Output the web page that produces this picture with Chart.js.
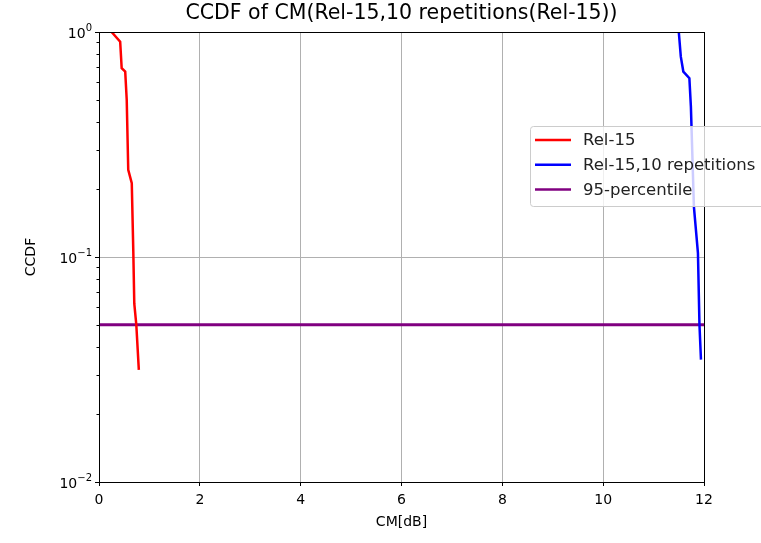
<!DOCTYPE html>
<html>
<head>
<meta charset="utf-8">
<script src="https://cdn.jsdelivr.net/npm/chart.js@4.4.1/dist/chart.umd.min.js"></script>
<style>
    html, body { margin: 0; padding: 0; background: #fff; }
    canvas { display: block; }
</style>
</head>
<body>
<canvas id="ccdfChart" width="761" height="543"></canvas>
<script>
// Datos
const rel15X = [0.25, 0.42, 0.45, 0.52, 0.55, 0.58, 0.65, 0.68, 0.70, 0.74, 0.79];
const rel15Y = [1.0, 0.906, 0.69, 0.667, 0.499, 0.244, 0.213, 0.107, 0.062, 0.05, 0.0315];
const rep10X = [11.50, 11.54, 11.59, 11.71, 11.74, 11.80, 11.88, 11.91, 11.94];
const rep10Y = [1.0, 0.777, 0.667, 0.623, 0.466, 0.167, 0.104, 0.05, 0.035];
const percX = [0, 12];
const percY = [0.05, 0.05];
const xTicks = [0, 2, 4, 6, 8, 10, 12];
const yTicks = [0.01, 0.1, 1];
const yExponents = ['\u22122', '\u22121', '0'];

const seriesNames = ['Rel-15', 'Rel-15,10 repetitions', '95-percentile'];
const seriesColors = ['#ff0000', '#0000ff', '#800080'];

const toPoints = (xs, ys) => xs.map((x, i) => ({ x: x, y: ys[i] }));
const FONT = 'DejaVu Sans';

// Textos, marcas menores, bordes y leyenda dibujados a mano
const extras = {
    id: 'extras',
    afterDraw(chart) {
        const c = chart.ctx;
        const a = chart.chartArea;
        const ys = chart.scales.y;
        c.save();
        // marco
        c.strokeStyle = '#000';
        c.lineWidth = 1;
        c.strokeRect(a.left + 0.5, a.top + 0.5, a.right - a.left, a.bottom - a.top);

        // marcas menores del eje log
        for (let d = 0; d < yTicks.length - 1; d++) {
            for (let m = 2; m <= 9; m++) {
                const py = Math.round(ys.getPixelForValue(yTicks[d] * m)) + 0.5;
                c.beginPath();
                c.moveTo(a.left - 2.5, py);
                c.lineTo(a.left, py);
                c.stroke();
            }
        }

        // etiquetas 10^n
        c.fillStyle = '#000';
        c.textAlign = 'right';
        c.textBaseline = 'alphabetic';
        yTicks.forEach((v, i) => {
            const py = ys.getPixelForValue(v);
            c.font = '10px "' + FONT + '"';
            const supW = c.measureText(yExponents[i]).width;
            c.fillText(yExponents[i], 92, py - 1);
            c.font = '14px "' + FONT + '"';
            c.fillText('10', 92 - supW, py + 6);
        });

        // titulo
        c.font = '20.5px "' + FONT + '"';
        c.textAlign = 'center';
        c.textBaseline = 'middle';
        c.fillText('CCDF of CM(Rel-15,10 repetitions(Rel-15))', (a.left + a.right) / 2, 14);

        // titulos de ejes
        c.font = '14px "' + FONT + '"';
        c.fillText('CM[dB]', (a.left + a.right) / 2, 522);
        c.translate(31, (a.top + a.bottom) / 2);
        c.rotate(-Math.PI / 2);
        c.fillText('CCDF', 0, 0);
        c.restore();

        // leyenda
        c.save();
        const bx = 530.5, by = 126.5, bw = 250, bh = 80;
        c.fillStyle = 'rgba(255,255,255,0.8)';
        c.strokeStyle = '#cccccc';
        c.lineWidth = 1;
        c.beginPath();
        c.roundRect(bx, by, bw, bh, 3);
        c.fill();
        c.stroke();
        c.font = '16.5px "' + FONT + '"';
        c.textAlign = 'left';
        c.textBaseline = 'middle';
        seriesNames.forEach((name, i) => {
            const y = 140 + i * 24.8;
            c.strokeStyle = seriesColors[i];
            c.lineWidth = 2.5;
            c.beginPath();
            c.moveTo(535, y);
            c.lineTo(571, y);
            c.stroke();
            c.fillStyle = '#222';
            c.fillText(name, 583, y + 1);
        });
        c.restore();
    }
};

const ctx = document.getElementById('ccdfChart').getContext('2d');

new Chart(ctx, {
    type: 'line',
    data: {
        datasets: [
            { label: seriesNames[0], data: toPoints(rel15X, rel15Y), borderColor: seriesColors[0], borderWidth: 2.5 },
            { label: seriesNames[1], data: toPoints(rep10X, rep10Y), borderColor: seriesColors[1], borderWidth: 2.5 },
            { label: seriesNames[2], data: toPoints(percX, percY), borderColor: seriesColors[2], borderWidth: 3 },
        ],
    },
    options: {
        responsive: false,
        animation: false,
        layout: { padding: { left: 0, right: 57, top: 32, bottom: 0 } },
        elements: { point: { radius: 0 }, line: { tension: 0, fill: false } },
        plugins: {
            legend: { display: false },
            title: { display: false },
            tooltip: { enabled: false },
        },
        scales: {
            x: {
                type: 'linear',
                min: 0,
                max: 12,
                afterFit: (s) => { s.height = 61; },
                afterBuildTicks: (s) => { s.ticks = xTicks.map((v) => ({ value: v })); },
                ticks: {
                    autoSkip: false,
                    maxRotation: 0,
                    padding: 6,
                    color: '#000',
                    font: { family: FONT, size: 14 },
                },
                grid: { color: '#b0b0b0', tickColor: '#000', tickLength: 4 },
                border: { color: '#000' },
            },
            y: {
                type: 'logarithmic',
                min: 0.01,
                max: 1,
                afterFit: (s) => { s.width = 99; },
                afterBuildTicks: (s) => { s.ticks = yTicks.map((v) => ({ value: v })); },
                ticks: {
                    autoSkip: false,
                    padding: 4,
                    callback: () => '',
                },
                grid: { color: '#b0b0b0', tickColor: '#000', tickLength: 4 },
                border: { color: '#000' },
            },
        },
    },
    plugins: [extras],
});
</script>
</body>
</html>
